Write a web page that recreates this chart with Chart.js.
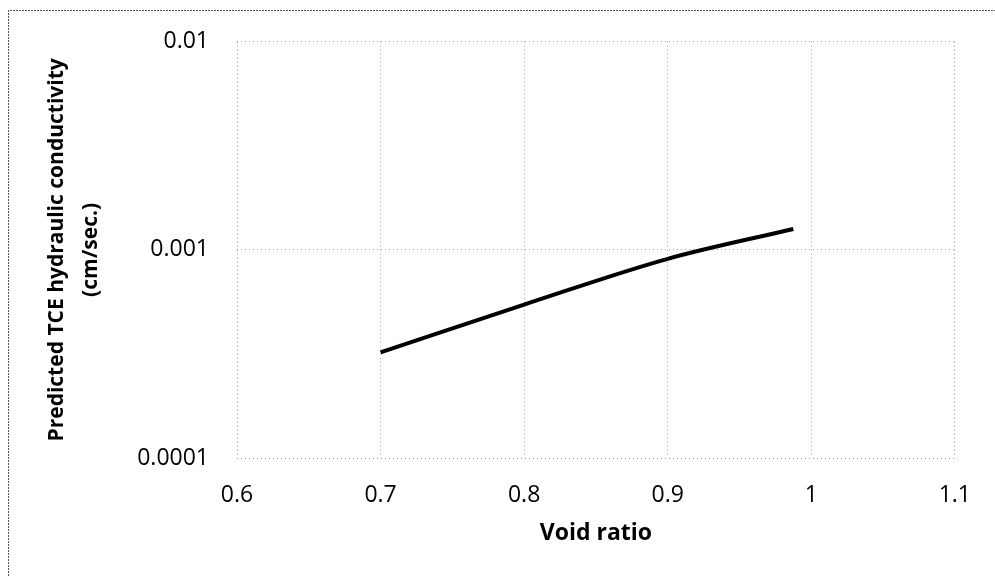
<!DOCTYPE html>
<html>
<head>
<meta charset="utf-8">
<script src="https://cdn.jsdelivr.net/npm/chart.js@4/dist/chart.umd.min.js"></script>
<style>
  html, body { margin: 0; padding: 0; background: #fff; }
  #wrap { width: 995px; height: 577px; }
</style>
</head>
<body>
<div id="wrap"><canvas id="c" width="995" height="577"></canvas></div>
<script>
// Data
const voidRatio = [0.7, 0.8, 0.9, 0.9875];
const conductivity = [0.000322, 0.000546, 0.000906, 0.00126];

const xTickValues = [0.6, 0.7, 0.8, 0.9, 1.0, 1.1];
const xTickLabels = ['0.6', '0.7', '0.8', '0.9', '1', '1.1'];
const yTickValues = [0.0001, 0.001, 0.01];
const yTickLabels = ['0.0001', '0.001', '0.01'];

const xTitle = 'Void ratio';
const yTitle = ['Predicted TCE hydraulic conductivity', '(cm/sec.)'];

const FONT = "'Open Sans', 'Liberation Sans', sans-serif";
const GRID_COLOR = 'rgba(0,0,0,0.38)';

const framePlugin = {
  id: 'frame',
  beforeDraw(chart) {
    const ctx = chart.ctx;
    ctx.save();
    ctx.fillStyle = '#ffffff';
    ctx.fillRect(0, 0, chart.width, chart.height);
    ctx.strokeStyle = '#555555';
    ctx.lineWidth = 1;
    ctx.setLineDash([2, 1]);
    ctx.beginPath();
    ctx.moveTo(8.5, chart.height + 2);
    ctx.lineTo(8.5, 10.5);
    ctx.lineTo(chart.width + 2, 10.5);
    ctx.stroke();
    ctx.restore();
  }
};

new Chart(document.getElementById('c'), {
  type: 'scatter',
  data: {
    datasets: [{
      data: voidRatio.map((x, i) => ({ x: x, y: conductivity[i] })),
      showLine: true,
      borderColor: '#000000',
      backgroundColor: '#000000',
      borderWidth: 4,
      pointRadius: 0,
      pointHoverRadius: 0,
      cubicInterpolationMode: 'monotone'
    }]
  },
  options: {
    responsive: false,
    animation: false,
    devicePixelRatio: 1,
    layout: { padding: { left: 0, right: 34, top: 38, bottom: 0 } },
    plugins: {
      legend: { display: false },
      tooltip: { enabled: false },
      title: { display: false }
    },
    scales: {
      x: {
        type: 'linear',
        min: 0.6,
        max: 1.1,
        afterBuildTicks(scale) {
          scale.ticks = xTickValues.map(v => ({ value: v }));
        },
        afterFit(scale) { scale.height = 119; },
        border: { display: false, dash: [1, 3] },
        grid: {
          color: GRID_COLOR,
          lineWidth: 1,
          drawTicks: false
        },
        ticks: {
          padding: 24,
          color: '#000000',
          font: { family: FONT, size: 23 },
          callback(value) {
            const i = xTickValues.findIndex(v => Math.abs(v - value) < 1e-9);
            return i >= 0 ? xTickLabels[i] : '';
          }
        },
        title: {
          display: true,
          text: xTitle,
          color: '#000000',
          font: { family: FONT, size: 23, weight: 'bold' },
          padding: { top: 0, bottom: 30 }
        }
      },
      y: {
        type: 'logarithmic',
        min: 0.0001,
        max: 0.01,
        afterBuildTicks(scale) {
          scale.ticks = yTickValues.map(v => ({ value: v, major: true }));
        },
        afterFit(scale) { scale.width = 237; },
        border: { display: false, dash: [1, 3] },
        grid: {
          color: GRID_COLOR,
          lineWidth: 1,
          drawTicks: false
        },
        ticks: {
          padding: 28,
          color: '#000000',
          font: { family: FONT, size: 23 },
          callback(value) {
            const i = yTickValues.findIndex(v => Math.abs(v - value) / v < 1e-6);
            return i >= 0 ? yTickLabels[i] : '';
          }
        },
        title: {
          display: true,
          text: yTitle,
          color: '#000000',
          font: { family: FONT, size: 21, weight: 'bold', lineHeight: 1.62 },
          padding: { top: 40, bottom: 0 }
        }
      }
    }
  },
  plugins: [framePlugin]
});
</script>
</body>
</html>
